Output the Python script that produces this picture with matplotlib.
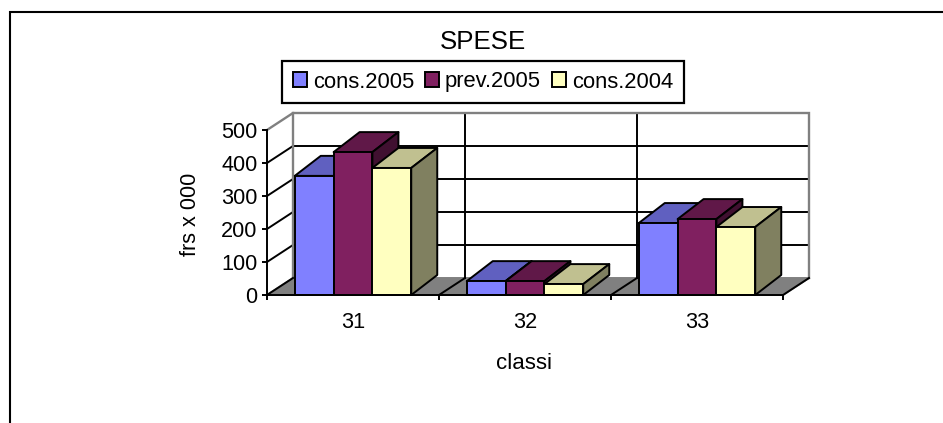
import matplotlib
matplotlib.use("Agg")
import matplotlib.pyplot as plt
from matplotlib.patches import Polygon, Patch
from matplotlib.lines import Line2D

categories = ["31", "32", "33"]
series_names = ["cons.2005", "prev.2005", "cons.2004"]
cons_2005 = [361, 42, 218]
prev_2005 = [433, 42, 230]
cons_2004 = [385, 33, 206]
y_ticks = [0, 100, 200, 300, 400, 500]

series = [cons_2005, prev_2005, cons_2004]
front = ["#8080FF", "#802060", "#FFFFC0"]
top = ["#6060C0", "#601848", "#C0C090"]
side = ["#404080", "#401030", "#808060"]

W, H = 943, 423
plt.rcParams["font.family"] = ["Liberation Sans", "DejaVu Sans"]
fig = plt.figure(figsize=(W / 100, H / 100), dpi=100, facecolor="white")
ax = fig.add_axes([267 / W, (H - 295) / H, 516 / W, 165 / H])
ax.set_xlim(0, len(categories))
ax.set_ylim(0, 500)
ax.patch.set_visible(False)

DX = 26 / 172      # oblique depth, category units
WALL_DY = 17 / 165 * 500
BAR_DY = 20 / 165 * 500
LW = 1.4
n = len(categories)
ymax = y_ticks[-1]

# floor
ax.add_patch(Polygon([(0, 0), (n, 0), (n + DX, WALL_DY), (DX, WALL_DY)],
                     closed=True, fc="#808080", ec="#808080", lw=LW, clip_on=False, zorder=1))
# gridlines on back wall and left wall
for v in y_ticks[1:-1]:
    ax.plot([0, DX, n + DX], [v, v + WALL_DY, v + WALL_DY], color="black", lw=LW,
            clip_on=False, zorder=1.2, solid_joinstyle="miter")
for k in range(1, n):
    ax.plot([k + DX, k + DX], [WALL_DY, ymax + WALL_DY], color="black", lw=LW,
            clip_on=False, zorder=1.2)
# wall outline
ax.plot([0, DX, n + DX, n + DX], [ymax, ymax + WALL_DY, ymax + WALL_DY, WALL_DY],
        color="#808080", lw=LW + 0.3, clip_on=False, zorder=1.3, solid_joinstyle="miter")
ax.plot([DX, DX], [WALL_DY, ymax + WALL_DY], color="#808080", lw=LW + 0.3,
        clip_on=False, zorder=1.3)
# floor diagonals
for k in range(n + 1):
    ax.plot([k, k + DX], [0, WALL_DY], color="black", lw=LW, clip_on=False, zorder=1.4)

# bars
bw = 116.5 / 172 / 3
for s, vals in enumerate(series):
    z = 3 + s
    for i, v in enumerate(vals):
        x0 = i + 0.5 + (s - 1.5) * bw
        x1 = x0 + bw
        ax.add_patch(Polygon([(x0, v), (x1, v), (x1 + DX, v + BAR_DY), (x0 + DX, v + BAR_DY)],
                             closed=True, fc=top[s], ec="black", lw=LW, clip_on=False,
                             zorder=z, joinstyle="round"))
        ax.add_patch(Polygon([(x1, 0), (x1 + DX, BAR_DY), (x1 + DX, v + BAR_DY), (x1, v)],
                             closed=True, fc=side[s], ec="black", lw=LW, clip_on=False,
                             zorder=z, joinstyle="round"))
    ax.bar([i + 0.5 + (s - 1) * bw for i in range(n)], vals, width=bw, color=front[s],
           edgecolor="black", linewidth=LW, zorder=z + 0.1, clip_on=False)

# axes
for name in ("top", "right"):
    ax.spines[name].set_visible(False)
for name in ("left", "bottom"):
    ax.spines[name].set_linewidth(LW)
    ax.spines[name].set_zorder(8)
ax.set_yticks(y_ticks)
ax.tick_params(axis="y", length=3.6, width=LW, pad=3.4, labelsize=15.6)
ax.set_xticks(range(n + 1))
ax.set_xticklabels([])
ax.set_xticks([i + 0.5 for i in range(n)], minor=True)
ax.set_xticklabels(categories, minor=True)
ax.tick_params(axis="x", which="major", length=3.6, width=LW)
ax.tick_params(axis="x", which="minor", length=0, pad=12.5, labelsize=15.6)
ax.set_xlabel("classi", fontsize=16)
ax.xaxis.set_label_coords((524 - 267) / 516, (295 - 363) / 165, transform=ax.transAxes)
ax.xaxis.label.set_verticalalignment("center")
ax.set_ylabel("frs x 000", fontsize=15.6)
ax.yaxis.set_label_coords((190 - 267) / 516, (295 - 214) / 165, transform=ax.transAxes)
ax.yaxis.label.set_verticalalignment("center")

fig.text(483 / W, 1 - 42 / H, "SPESE", fontsize=18.6, ha="center", va="center")

handles = [Patch(facecolor=front[i], edgecolor="black", linewidth=LW, label=series_names[i])
           for i in range(3)]
leg = fig.legend(handles=handles, ncol=3, loc="center", bbox_to_anchor=(483 / W, 1 - 82 / H),
                 fontsize=15.8, frameon=True, fancybox=False, edgecolor="black", framealpha=1,
                 handlelength=0.65, handleheight=0.65, handletextpad=0.26, columnspacing=0.5,
                 borderpad=0.48, borderaxespad=0)
leg.get_frame().set_linewidth(LW + 0.2)

# outer border
fig.add_artist(Line2D([9.5 / W, 9.5 / W, 1], [0, 1 - 12 / H, 1 - 12 / H], color="black", lw=1.5,
                      transform=fig.transFigure, solid_joinstyle="miter"))
fig.savefig("out.png", dpi=100)
